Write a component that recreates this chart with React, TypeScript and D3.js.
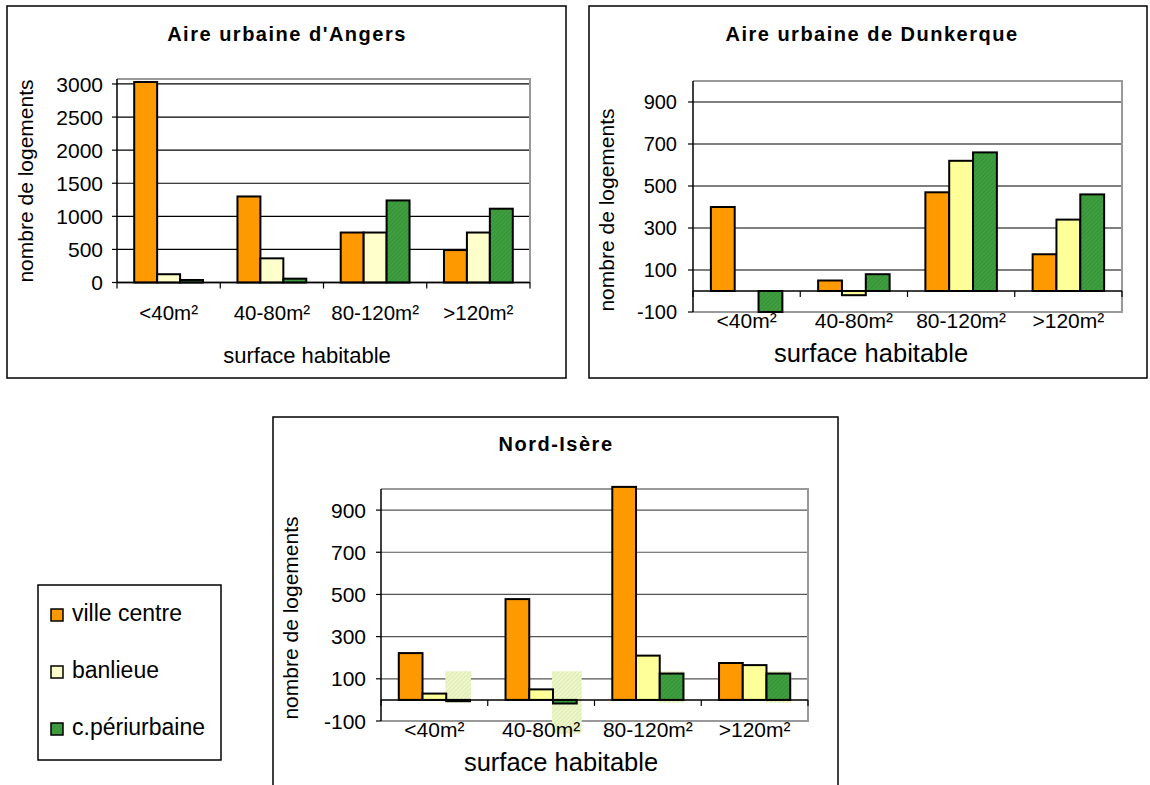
import React from "react";
import * as d3 from "d3";

// ---------- DATA ----------
const categories = ["<40m²", "40-80m²", "80-120m²", ">120m²"];
const seriesNames = ["ville centre", "banlieue", "c.périurbaine"];

const angersVille = [3030, 1300, 755, 490];
const angersBanlieue = [125, 365, 755, 755];
const angersPeri = [38, 58, 1240, 1115];
const angersTicks = [0, 500, 1000, 1500, 2000, 2500, 3000];

const dunkVille = [400, 50, 470, 175];
const dunkBanlieue: (number | null)[] = [null, -20, 620, 340];
const dunkPeri = [-100, 80, 660, 460];
const dunkTicks = [-100, 100, 300, 500, 700, 900];

const isereVille = [222, 478, 1010, 175];
const isereBanlieue = [30, 50, 210, 165];
const iserePeri = [-6, -17, 125, 125];
const isereGhostTop = [136, 136, 136, 136];
const isereGhostBottom = [-13, -160, -13, -13];
const isereTicks = [-100, 100, 300, 500, 700, 900];

const titles = ["Aire urbaine d'Angers", "Aire urbaine de Dunkerque", "Nord-Isère"];
const xTitle = "surface habitable";
const yTitle = "nombre de logements";

// ---------- STYLE ----------
const FONT = "'Liberation Sans', Arial, Helvetica, sans-serif";
const ORANGE = "#FF9900";
const CREAM = "#FFFFCC";
const YELLOW = "#FFFF99";

type ChartProps = {
  title: string;
  box: [number, number, number, number];
  plot: [number, number, number, number]; // left, top, right, bottom
  domain: [number, number];
  ticks: number[];
  series: (number | null)[][];
  banlieueColor: string;
  gridColor: string;
  titleY: number;
  titleX: number;
  tickFont: number;
  tickRight: number;
  catFont: number;
  catY: number;
  xTitleFont: number;
  xTitleX: number;
  xTitleY: number;
  yTitleX: number;
  yTitleY: number;
  ghostTop?: number[];
  ghostBottom?: number[];
};

function Chart(p: ChartProps) {
  const [L, T, R, B] = p.plot;
  const y = d3.scaleLinear().domain(p.domain).range([B, T]);
  const xCat = d3.scaleBand<string>().domain(categories).range([L, R]).padding(0);
  const xSer = d3
    .scaleBand<string>()
    .domain(seriesNames)
    .range([0, xCat.bandwidth()])
    .paddingInner(0)
    .paddingOuter(0.75);
  const bw = xSer.bandwidth();
  const y0 = y(Math.max(0, p.domain[0]));
  const fills = [ORANGE, p.banlieueColor, "url(#hatchGreen)"];
  const bounds = d3.range(categories.length + 1).map((i) => L + i * xCat.bandwidth());
  return (
    <g>
      <rect x={p.box[0]} y={p.box[1]} width={p.box[2] - p.box[0]} height={p.box[3] - p.box[1]} fill="#fff" stroke="#000" strokeWidth={1.5} />
      <text x={p.titleX} y={p.titleY} textAnchor="middle" fontFamily={FONT} fontWeight="bold" fontSize={20} letterSpacing={1.5}>
        {p.title}
      </text>
      {/* grid lines */}
      {p.ticks.map((t) => (
        <line key={"g" + t} x1={L} x2={R} y1={y(t)} y2={y(t)} stroke={p.gridColor} strokeWidth={1.2} />
      ))}
      {/* plot border */}
      <path d={`M${L},${T}H${R}V${B}H${L}`} fill="none" stroke="#999" strokeWidth={2} />
      {/* ghost rects */}
      {p.ghostTop &&
        p.ghostBottom &&
        categories.map((c, i) => {
          const x = (xCat(c) as number) + (xSer(seriesNames[2]) as number) - 1;
          const yt = y(p.ghostTop![i]);
          const yb = y(p.ghostBottom![i]);
          return <rect key={"gh" + c} x={x} y={yt} width={bw + (i === 1 ? 6 : 2)} height={yb - yt} fill="url(#hatchGhost)" />;
        })}
      {/* bars */}
      {p.series.map((vals, s) =>
        vals.map((v, i) => {
          if (v === null) return null;
          const x = (xCat(categories[i]) as number) + (xSer(seriesNames[s]) as number);
          const yv = y(v);
          const top = Math.min(yv, y0);
          const h = Math.abs(yv - y0);
          return <rect key={`b${s}-${i}`} x={x} y={top} width={bw} height={h} fill={fills[s]} stroke="#000" strokeWidth={2} />;
        })
      )}
      {/* y axis */}
      <line x1={L} x2={L} y1={T} y2={B} stroke="#000" strokeWidth={1.5} />
      {p.ticks.map((t) => (
        <g key={"t" + t}>
          <line x1={L - 5} x2={L} y1={y(t)} y2={y(t)} stroke="#000" strokeWidth={1.2} />
          <text x={p.tickRight} y={y(t) + p.tickFont * 0.36} textAnchor="end" fontFamily={FONT} fontSize={p.tickFont}>
            {t}
          </text>
        </g>
      ))}
      {/* x axis */}
      <line x1={L} x2={R} y1={y0} y2={y0} stroke="#000" strokeWidth={1.5} />
      {bounds.map((bx, i) => (
        <line key={"xt" + i} x1={bx} x2={bx} y1={y0} y2={y0 + 6} stroke="#000" strokeWidth={1.2} />
      ))}
      {categories.map((c) => (
        <text key={"c" + c} x={(xCat(c) as number) + xCat.bandwidth() / 2} y={p.catY} textAnchor="middle" fontFamily={FONT} fontSize={p.catFont}>
          {c}
        </text>
      ))}
      <text x={p.xTitleX} y={p.xTitleY} textAnchor="middle" fontFamily={FONT} fontSize={p.xTitleFont}>
        {xTitle}
      </text>
      <text transform={`translate(${p.yTitleX},${p.yTitleY}) rotate(-90)`} textAnchor="middle" fontFamily={FONT} fontSize={21}>
        {yTitle}
      </text>
    </g>
  );
}

export default function App() {
  const legendColors = [ORANGE, CREAM, "url(#hatchGreen)"];
  const legendY = [620, 677, 734];
  return (
    <svg width={1150} height={785} style={{ position: "absolute", left: 0, top: 0, background: "#fff" }}>
      <defs>
        <pattern id="hatchGreen" width={3} height={3} patternUnits="userSpaceOnUse" patternTransform="rotate(45)">
          <rect width={3} height={3} fill="#3f9e3f" />
          <line x1={0} y1={0} x2={0} y2={3} stroke="#2f8a2f" strokeWidth={1.2} />
        </pattern>
        <pattern id="hatchGhost" width={3} height={3} patternUnits="userSpaceOnUse" patternTransform="rotate(45)">
          <rect width={3} height={3} fill="#eef6cc" />
          <line x1={0} y1={0} x2={0} y2={3} stroke="#d2e49a" strokeWidth={1.2} />
        </pattern>
      </defs>
      <rect width={1150} height={785} fill="#fff" />
      <Chart
        title={titles[0]}
        box={[7, 6, 566, 378]}
        plot={[117, 79, 530, 282.5]}
        domain={[0, 3075]}
        ticks={angersTicks}
        series={[angersVille, angersBanlieue, angersPeri]}
        banlieueColor={CREAM}
        gridColor="#000"
        titleX={287}
        titleY={41}
        tickFont={21}
        tickRight={103}
        catFont={20.5}
        catY={320}
        xTitleFont={22}
        xTitleX={307}
        xTitleY={363}
        yTitleX={33}
        yTitleY={181}
      />
      <Chart
        title={titles[1]}
        box={[589, 6, 1147, 378]}
        plot={[693, 81, 1122, 312]}
        domain={[-100, 1000]}
        ticks={dunkTicks}
        series={[dunkVille, dunkBanlieue, dunkPeri]}
        banlieueColor={YELLOW}
        gridColor="#000"
        titleX={872}
        titleY={41}
        tickFont={20}
        tickRight={677}
        catFont={21}
        catY={328}
        xTitleFont={25.5}
        xTitleX={871}
        xTitleY={362}
        yTitleX={614}
        yTitleY={210}
      />
      <Chart
        title={titles[2]}
        box={[273, 417, 838, 800]}
        plot={[381, 489, 808, 721]}
        domain={[-100, 1000]}
        ticks={isereTicks}
        series={[isereVille, isereBanlieue, iserePeri]}
        banlieueColor={YELLOW}
        gridColor="#555"
        titleX={556}
        titleY={451}
        tickFont={21}
        tickRight={366}
        catFont={21}
        catY={737}
        xTitleFont={25.5}
        xTitleX={561}
        xTitleY={771}
        yTitleX={298}
        yTitleY={618}
        ghostTop={isereGhostTop}
        ghostBottom={isereGhostBottom}
      />
      {/* legend */}
      <rect x={38} y={585} width={183} height={175} fill="#fff" stroke="#000" strokeWidth={1.5} />
      {seriesNames.map((s, i) => (
        <g key={s}>
          <rect x={51} y={legendY[i] - 11} width={12} height={12} fill={legendColors[i]} stroke="#000" strokeWidth={1.5} />
          <text x={72} y={legendY[i] + 1} fontFamily={FONT} fontSize={23}>
            {s}
          </text>
        </g>
      ))}
    </svg>
  );
}
